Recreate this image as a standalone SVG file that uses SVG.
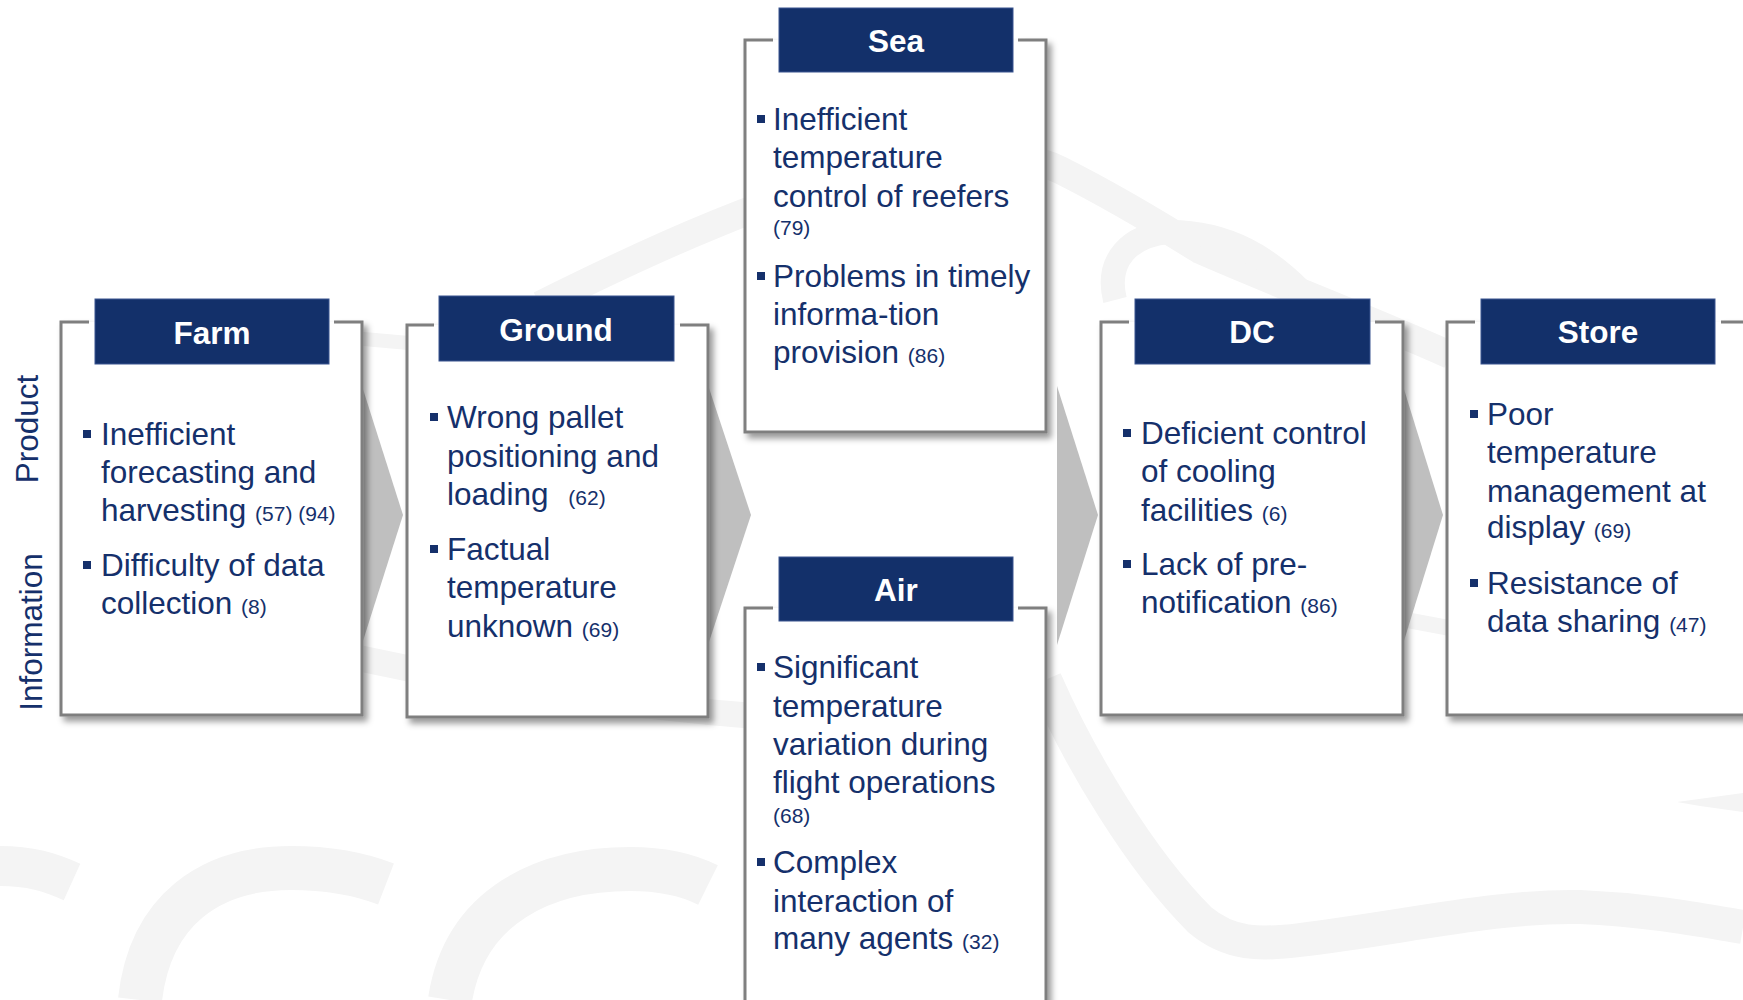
<svg xmlns="http://www.w3.org/2000/svg" width="1743" height="1000" viewBox="0 0 1743 1000">
  <defs>
    <style>
      .paper { fill: #ffffff; }
      .frame { fill: none; stroke: #7f7f7f; stroke-width: 3; }
      .hdr { fill: #13306a; stroke: #3a5590; stroke-width: 1; }
      .hdt { font-family: "Liberation Sans", Arial, sans-serif; font-weight: bold; font-size: 31.5px; fill: #ffffff; text-anchor: middle; }
      .txt { font-family: "Liberation Sans", Arial, sans-serif; font-size: 31.5px; fill: #15306b; }
      .sm { font-size: 21px; }
      .blt { fill: #15306b; }
      .side { font-family: "Liberation Sans", Arial, sans-serif; font-size: 31.5px; fill: #15306b; text-anchor: middle; }
      .chev { fill: #bfbfbf; }
      .swoosh { fill: none; stroke: #f4f4f4; stroke-linecap: butt; }
    </style>
    <filter id="shadow" x="-10%" y="-10%" width="125%" height="125%">
      <feDropShadow dx="4" dy="5" stdDeviation="3" flood-color="#000000" flood-opacity="0.4"/>
    </filter>
  </defs>

  <!-- faint decorative swooshes in the background -->
  <g id="background">
    <path class="swoosh" stroke-width="40" d="M0,866 C30,866 50,872 72,882"/>
    <path class="swoosh" stroke-width="44" d="M140,1000 C150,910 210,868 291,868 C330,868 360,874 386,884"/>
    <path class="swoosh" stroke-width="44" d="M450,1000 C465,905 545,869 630,869 C665,869 690,876 708,885"/>
    <path class="swoosh" stroke-width="28" d="M540,305 C650,250 780,190 900,165 C980,150 1030,155 1060,170 C1110,195 1160,225 1200,250 C1280,285 1360,315 1450,355"/>
    <path class="swoosh" stroke-width="24" d="M1115,300 C1105,260 1130,235 1170,232 C1230,232 1270,260 1300,290"/>
    <path class="swoosh" stroke-width="34" d="M1045,680 C1080,760 1140,860 1200,920 C1230,945 1260,945 1300,940 C1400,928 1500,905 1580,907 C1650,910 1700,920 1743,927"/>
    <polygon fill="#f4f4f4" points="1677,802 1743,793 1743,812 1700,806"/>
    <path class="swoosh" stroke-width="26" d="M300,645 C450,680 600,705 780,718"/>
    <path class="swoosh" stroke-width="14" d="M330,336 L420,344"/>
    <path class="swoosh" stroke-width="16" d="M1380,615 L1460,630"/>
  </g>

  <!-- chevron arrows between stages -->
  <g id="connectors">
    <polygon class="chev" points="362,386 403,515 362,644"/>
    <polygon class="chev" points="708,385 751,515 708,645"/>
    <polygon class="chev" points="1057,386 1098,515 1057,645"/>
    <polygon class="chev" points="1403,386 1443,515 1403,644"/>
  </g>

  <!-- row labels -->
  <g id="labels">
    <text class="side" transform="translate(38,429) rotate(-90)">Product</text>
    <text class="side" transform="translate(42,632) rotate(-90)">Information</text>
  </g>

  <g id="farm">
    <g filter="url(#shadow)">
      <rect class="paper" x="61" y="322" width="301" height="393"/>
      <path class="frame" d="M89,322 H61 V715 H362 V322 H334"/>
    </g>
    <rect class="hdr" x="95" y="299" width="234" height="65"/>
    <text class="hdt" x="212" y="344">Farm</text>
    <rect class="blt" x="83" y="430" width="8" height="8"/>
    <rect class="blt" x="83" y="561" width="8" height="8"/>
    <text class="txt">
      <tspan x="101" y="445">Inefficient</tspan>
      <tspan x="101" y="483">forecasting and</tspan>
      <tspan x="101" y="521">harvesting <tspan class="sm">(57) (94)</tspan></tspan>
      <tspan x="101" y="576">Difficulty of data</tspan>
      <tspan x="101" y="614">collection <tspan class="sm">(8)</tspan></tspan>
    </text>
  </g>

  <g id="ground">
    <g filter="url(#shadow)">
      <rect class="paper" x="407" y="325" width="301" height="392"/>
      <path class="frame" d="M434,325 H407 V717 H708 V325 H680"/>
    </g>
    <rect class="hdr" x="439" y="296" width="235" height="65"/>
    <text class="hdt" x="556" y="341">Ground</text>
    <rect class="blt" x="430" y="413" width="8" height="8"/>
    <rect class="blt" x="430" y="545" width="8" height="8"/>
    <text class="txt">
      <tspan x="447" y="428">Wrong pallet</tspan>
      <tspan x="447" y="467">positioning and</tspan>
      <tspan x="447" y="505">loading <tspan class="sm" dx="11">(62)</tspan></tspan>
      <tspan x="447" y="560">Factual</tspan>
      <tspan x="447" y="598">temperature</tspan>
      <tspan x="447" y="637">unknown <tspan class="sm">(69)</tspan></tspan>
    </text>
  </g>

  <g id="sea">
    <g filter="url(#shadow)">
      <rect class="paper" x="745" y="40" width="301" height="392"/>
      <path class="frame" d="M773,40 H745 V432 H1046 V40 H1018"/>
    </g>
    <rect class="hdr" x="779" y="8" width="234" height="64"/>
    <text class="hdt" x="896" y="52">Sea</text>
    <rect class="blt" x="757" y="115" width="8" height="8"/>
    <rect class="blt" x="757" y="272" width="8" height="8"/>
    <text class="txt">
      <tspan x="773" y="130">Inefficient</tspan>
      <tspan x="773" y="168">temperature</tspan>
      <tspan x="773" y="207">control of reefers</tspan>
      <tspan x="773" y="235" class="sm">(79)</tspan>
      <tspan x="773" y="287">Problems in timely</tspan>
      <tspan x="773" y="325">informa-tion</tspan>
      <tspan x="773" y="363">provision <tspan class="sm">(86)</tspan></tspan>
    </text>
  </g>

  <g id="air">
    <g filter="url(#shadow)">
      <rect class="paper" x="745" y="608" width="301" height="395"/>
      <path class="frame" d="M773,608 H745 V1003 H1046 V608 H1018"/>
    </g>
    <rect class="hdr" x="779" y="557" width="234" height="64"/>
    <text class="hdt" x="896" y="601">Air</text>
    <rect class="blt" x="757" y="663" width="8" height="8"/>
    <rect class="blt" x="757" y="858" width="8" height="8"/>
    <text class="txt">
      <tspan x="773" y="678">Significant</tspan>
      <tspan x="773" y="717">temperature</tspan>
      <tspan x="773" y="755">variation during</tspan>
      <tspan x="773" y="793">flight operations</tspan>
      <tspan x="773" y="823" class="sm">(68)</tspan>
      <tspan x="773" y="873">Complex</tspan>
      <tspan x="773" y="912">interaction of</tspan>
      <tspan x="773" y="949">many agents <tspan class="sm">(32)</tspan></tspan>
    </text>
  </g>

  <g id="dc">
    <g filter="url(#shadow)">
      <rect class="paper" x="1101" y="322" width="302" height="393"/>
      <path class="frame" d="M1129,322 H1101 V715 H1403 V322 H1375"/>
    </g>
    <rect class="hdr" x="1135" y="299" width="235" height="65"/>
    <text class="hdt" x="1252" y="343">DC</text>
    <rect class="blt" x="1123" y="429" width="8" height="8"/>
    <rect class="blt" x="1123" y="560" width="8" height="8"/>
    <text class="txt">
      <tspan x="1141" y="444">Deficient control</tspan>
      <tspan x="1141" y="482">of cooling</tspan>
      <tspan x="1141" y="521">facilities <tspan class="sm">(6)</tspan></tspan>
      <tspan x="1141" y="575">Lack of pre-</tspan>
      <tspan x="1141" y="613">notification <tspan class="sm">(86)</tspan></tspan>
    </text>
  </g>

  <g id="store">
    <g filter="url(#shadow)">
      <rect class="paper" x="1447" y="322" width="301" height="393"/>
      <path class="frame" d="M1475,322 H1447 V715 H1748 V322 H1721"/>
    </g>
    <rect class="hdr" x="1481" y="299" width="234" height="65"/>
    <text class="hdt" x="1598" y="343">Store</text>
    <rect class="blt" x="1470" y="410" width="8" height="8"/>
    <rect class="blt" x="1470" y="579" width="8" height="8"/>
    <text class="txt">
      <tspan x="1487" y="425">Poor</tspan>
      <tspan x="1487" y="463">temperature</tspan>
      <tspan x="1487" y="502">management at</tspan>
      <tspan x="1487" y="538">display <tspan class="sm">(69)</tspan></tspan>
      <tspan x="1487" y="594">Resistance of</tspan>
      <tspan x="1487" y="632">data sharing <tspan class="sm">(47)</tspan></tspan>
    </text>
  </g>
</svg>
